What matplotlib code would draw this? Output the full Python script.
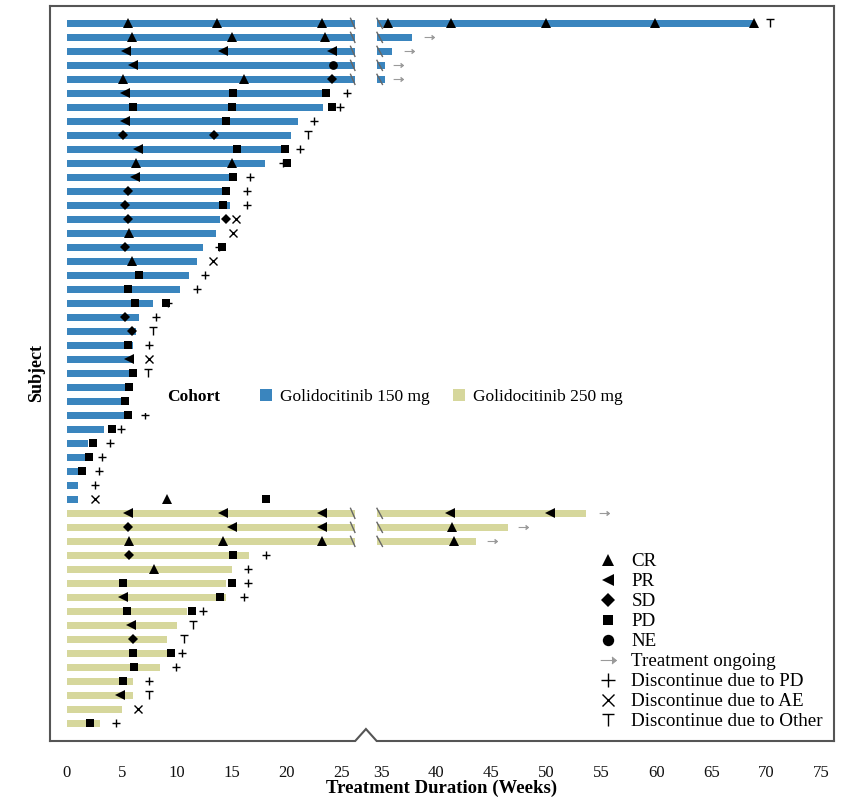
import numpy as np
import matplotlib
matplotlib.use('Agg')
import matplotlib.pyplot as plt
from matplotlib.path import Path
from matplotlib.patches import Patch, Rectangle
from matplotlib.lines import Line2D
from matplotlib.transforms import blended_transform_factory

plt.rcParams['font.family'] = ['Liberation Serif', 'DejaVu Serif']

# ---------------- data ----------------
cohort_labels = ['Golidocitinib 150 mg', 'Golidocitinib 250 mg']
cohort_colors = ['#3a85be', '#d6d79c']

# cohort index for each subject (top to bottom)
subject_cohort = [0] * 35 + [1] * 16

# treatment duration (weeks) for each subject
duration = [68.9, 37.8, 36.0, 35.3, 35.3, 23.3, 23.3, 21.0, 20.4, 20.1,
            18.0, 15.5, 14.8, 14.8, 13.9, 13.6, 12.4, 11.8, 11.1, 10.3,
            7.8, 6.6, 6.3, 6.0, 6.0, 6.0, 6.0, 5.7, 5.6, 3.4,
            1.9, 1.7, 1.0, 1.0, 1.0,
            53.6, 46.5, 43.6, 16.6, 15.0, 14.5, 14.5, 10.9, 10.0, 9.1,
            9.1, 8.5, 6.0, 6.0, 5.0, 3.0]

# end-of-treatment event per subject: week and reason
end_week = [70.3, 39.3, 37.5, 36.5, 36.5, 25.5, 24.8, 22.5, 21.9, 21.2,
            19.7, 16.7, 16.4, 16.4, 15.4, 15.1, 13.8, 13.3, 12.6, 11.8,
            9.2, 8.1, 7.8, 7.5, 7.5, 7.4, 7.5, 7.2, 7.1, 4.9,
            3.9, 3.2, 2.9, 2.6, 2.6,
            55.2, 47.9, 45.1, 18.1, 16.5, 16.5, 16.1, 12.4, 11.5, 10.7,
            10.5, 9.9, 7.5, 7.5, 6.5, 4.5]
end_reason = ['Other', 'Ongoing', 'Ongoing', 'Ongoing', 'Ongoing', 'PD', 'PD', 'PD', 'Other', 'PD',
              'PD', 'PD', 'PD', 'PD', 'AE', 'AE', 'PD', 'AE', 'PD', 'PD',
              'PD', 'PD', 'Other', 'PD', 'AE', 'Other', 'PD', 'PD', 'PD', 'PD',
              'PD', 'PD', 'PD', 'PD', 'AE',
              'Ongoing', 'Ongoing', 'Ongoing', 'PD', 'PD', 'PD', 'PD', 'PD', 'Other', 'Other',
              'PD', 'PD', 'PD', 'Other', 'AE', 'PD']

# response assessments: (subject number, week, response)
assessments = [
    (1, 5.6, 'CR'), (1, 13.7, 'CR'), (1, 23.2, 'CR'), (1, 35.6, 'CR'), (1, 41.3, 'CR'),
    (1, 50.0, 'CR'), (1, 59.9, 'CR'), (1, 68.9, 'CR'),
    (2, 5.9, 'CR'), (2, 15.0, 'CR'), (2, 23.5, 'CR'),
    (3, 5.4, 'PR'), (3, 14.2, 'PR'), (3, 24.1, 'PR'),
    (4, 6.0, 'PR'), (4, 24.2, 'NE'),
    (5, 5.1, 'CR'), (5, 16.1, 'CR'), (5, 24.1, 'SD'),
    (6, 5.3, 'PR'), (6, 15.1, 'PD'), (6, 23.6, 'PD'),
    (7, 6.0, 'PD'), (7, 15.0, 'PD'), (7, 24.1, 'PD'),
    (8, 5.3, 'PR'), (8, 14.5, 'PD'),
    (9, 5.1, 'SD'), (9, 13.4, 'SD'),
    (10, 6.5, 'PR'), (10, 15.5, 'PD'), (10, 19.8, 'PD'),
    (11, 6.3, 'CR'), (11, 15.0, 'CR'), (11, 20.0, 'PD'),
    (12, 6.2, 'PR'), (12, 15.1, 'PD'),
    (13, 5.6, 'SD'), (13, 14.5, 'PD'),
    (14, 5.3, 'SD'), (14, 14.2, 'PD'),
    (15, 5.6, 'SD'), (15, 14.5, 'SD'),
    (16, 5.7, 'CR'),
    (17, 5.3, 'SD'), (17, 14.1, 'PD'),
    (18, 5.9, 'CR'),
    (19, 6.6, 'PD'),
    (20, 5.6, 'PD'),
    (21, 6.2, 'PD'), (21, 9.0, 'PD'),
    (22, 5.3, 'SD'),
    (23, 5.9, 'SD'),
    (24, 5.6, 'PD'),
    (25, 5.7, 'PR'),
    (26, 6.0, 'PD'),
    (27, 5.7, 'PD'),
    (28, 5.3, 'PD'),
    (29, 5.6, 'PD'),
    (30, 4.1, 'PD'),
    (31, 2.4, 'PD'),
    (32, 2.0, 'PD'),
    (33, 1.4, 'PD'),
    (35, 9.1, 'CR'), (35, 18.1, 'PD'),
    (36, 5.6, 'PR'), (36, 14.2, 'PR'), (36, 23.2, 'PR'), (36, 41.2, 'PR'), (36, 50.3, 'PR'),
    (37, 5.6, 'SD'), (37, 15.0, 'PR'), (37, 23.2, 'PR'), (37, 41.4, 'CR'),
    (38, 5.7, 'CR'), (38, 14.2, 'CR'), (38, 23.2, 'CR'), (38, 41.6, 'CR'),
    (39, 5.7, 'SD'), (39, 15.1, 'PD'),
    (40, 7.9, 'CR'),
    (41, 5.1, 'PD'), (41, 15.0, 'PD'),
    (42, 5.1, 'PR'), (42, 13.9, 'PD'),
    (43, 5.5, 'PD'), (43, 11.4, 'PD'),
    (44, 5.8, 'PR'),
    (45, 6.0, 'SD'),
    (46, 6.0, 'PD'), (46, 9.5, 'PD'),
    (47, 6.1, 'PD'),
    (48, 5.1, 'PD'),
    (49, 4.8, 'PR'),
    (51, 2.1, 'PD'),
]

response_codes = ['CR', 'PR', 'SD', 'PD', 'NE']
end_codes = ['Ongoing', 'PD', 'AE', 'Other']
end_labels = ['Treatment ongoing', 'Discontinue due to PD',
              'Discontinue due to AE', 'Discontinue due to Other']

xtick_values = [0, 5, 10, 15, 20, 25, 35, 40, 45, 50, 55, 60, 65, 70, 75]

# axis break (weeks)
BREAK_LO, BREAK_HI, BREAK_GAP = 26.2, 34.6, 2.0
SHIFT = BREAK_HI - (BREAK_LO + BREAK_GAP)


def fwd(x):
    x = np.asarray(x, dtype=float)
    return np.where(x <= BREAK_LO, x,
                    np.where(x >= BREAK_HI, x - SHIFT,
                             BREAK_LO + (x - BREAK_LO) * BREAK_GAP / (BREAK_HI - BREAK_LO)))


def inv(y):
    y = np.asarray(y, dtype=float)
    return np.where(y <= BREAK_LO, y,
                    np.where(y >= BREAK_LO + BREAK_GAP, y + SHIFT,
                             BREAK_LO + (y - BREAK_LO) * (BREAK_HI - BREAK_LO) / BREAK_GAP))


# ---------------- markers ----------------
T_PATH = Path([(-1, 1), (1, 1), (0, 1), (0, -1)],
              [Path.MOVETO, Path.LINETO, Path.MOVETO, Path.LINETO])
ARROW_PATH = Path([(-1, 0), (1, 0), (0.45, 0.45), (1, 0), (0.45, -0.45)],
                  [Path.MOVETO, Path.LINETO, Path.MOVETO, Path.LINETO, Path.LINETO])

resp_marker = {'CR': '^', 'PR': '<', 'SD': 'D', 'PD': 's', 'NE': 'o'}
resp_size = {'CR': 6.8, 'PR': 6.8, 'SD': 5.2, 'PD': 6.0, 'NE': 6.3}
end_marker = {'Ongoing': ARROW_PATH, 'PD': '+', 'AE': 'x', 'Other': T_PATH}
end_size = {'Ongoing': 7.0, 'PD': 6.0, 'AE': 5.8, 'Other': 5.8}
end_color = {'Ongoing': '#9a9a9a', 'PD': 'black', 'AE': 'black', 'Other': 'black'}
end_mew = {'Ongoing': 0.8, 'PD': 1.0, 'AE': 1.0, 'Other': 1.0}

# ---------------- figure ----------------
fig = plt.figure(figsize=(8.44, 7.99), dpi=100)
ax = fig.add_axes([50 / 844, 1 - 741 / 799, 784 / 844, 735 / 799])
ax.set_xscale('function', functions=(fwd, inv))

n = len(duration)
bar_h = 0.48

for i in range(n):
    col = cohort_colors[subject_cohort[i]]
    d = duration[i]
    if d > BREAK_HI:
        ax.barh(i, BREAK_LO, left=0, height=bar_h, color=col, zorder=2, linewidth=0)
        ax.barh(i, d - BREAK_HI, left=BREAK_HI, height=bar_h, color=col, zorder=2, linewidth=0)
        ax.plot([BREAK_LO - 0.4, BREAK_LO], [i - 0.36, i + 0.36], color='#666666', lw=1.0, zorder=3)
        ax.plot([BREAK_HI, BREAK_HI + 0.5], [i - 0.36, i + 0.36], color='#666666', lw=1.0, zorder=3)
    else:
        ax.barh(i, d, left=0, height=bar_h, color=col, zorder=2, linewidth=0)

# end events
for code in end_codes:
    xs = [end_week[i] for i in range(n) if end_reason[i] == code]
    ys = [i for i in range(n) if end_reason[i] == code]
    ax.plot(xs, ys, linestyle='none', marker=end_marker[code], markersize=end_size[code],
            color=end_color[code], markeredgewidth=end_mew[code], zorder=3)

# response assessments
for code in response_codes:
    xs = [w for s, w, c in assessments if c == code]
    ys = [s - 1 for s, w, c in assessments if c == code]
    ax.plot(xs, ys, linestyle='none', marker=resp_marker[code], markersize=resp_size[code],
            color='black', markeredgewidth=0, zorder=4)

ax.set_xlim(-1.52, 76.15)
ax.set_ylim(51.26, -1.24)

ax.set_xticks(xtick_values)
ax.set_xticklabels([str(v) for v in xtick_values])
ax.xaxis.set_minor_locator(matplotlib.ticker.NullLocator())
ax.tick_params(axis='x', length=0, pad=17, labelsize=12, labelcolor='#111111')
ax.set_yticks([])

for side in ['top', 'left', 'right']:
    ax.spines[side].set_color('#555555')
    ax.spines[side].set_linewidth(1.5)
ax.spines['bottom'].set_visible(False)
trans = blended_transform_factory(ax.transData, ax.transAxes)
ax.plot([-1.52, 26.3, 30.4, 34.5, 76.15], [0, 0, 0.0163, 0, 0], color='#555555',
        lw=1.5, transform=trans, clip_on=False, zorder=10, solid_joinstyle='miter')

ax.set_xlabel('Treatment Duration (Weeks)', fontsize=13.5, fontweight='bold', labelpad=-1)
ax.set_ylabel('Subject', fontsize=13, fontweight='bold', labelpad=3.5)

# cohort legend (with white background)
ax.add_patch(Rectangle(((142 - 50) / 784, 1 - (413 - 6) / 735), (640 - 142) / 784, 31 / 735,
                       transform=ax.transAxes, facecolor='white', edgecolor='none', zorder=5))
ax.text((167 - 50) / 784, 1 - (397 - 6) / 735, 'Cohort', transform=ax.transAxes,
        fontsize=12.5, fontweight='bold', va='center', ha='left', zorder=6)
coh_handles = [Patch(facecolor=c, edgecolor='none') for c in cohort_colors]
leg1 = ax.legend(coh_handles, cohort_labels, loc='center left',
                 bbox_to_anchor=((244 - 50) / 784, 1 - (397 - 6) / 735),
                 ncol=2, frameon=False, fontsize=12.5, handlelength=0.69, handleheight=0.69,
                 handletextpad=0.46, columnspacing=1.38, borderpad=0.4)
leg1.set_zorder(6)
ax.add_artist(leg1)

# marker legend
mk_handles = []
mk_labels = []
for code in response_codes:
    mk_handles.append(Line2D([], [], linestyle='none', marker=resp_marker[code],
                             markersize=resp_size[code] * 1.3, color='black', markeredgewidth=0))
    mk_labels.append(code)
for code, lab in zip(end_codes, end_labels):
    mk_handles.append(Line2D([], [], linestyle='none', marker=end_marker[code],
                             markersize=end_size[code] * 1.6, color=end_color[code],
                             markeredgewidth=end_mew[code]))
    mk_labels.append(lab)
leg2 = ax.legend(mk_handles, mk_labels, loc='upper left',
                 bbox_to_anchor=((581 - 50) / 784, 1 - (536 - 6) / 735),
                 frameon=False, fontsize=13.7, handlelength=1.0, handletextpad=0.75,
                 labelspacing=0.14, borderpad=0.4)
leg2.set_zorder(6)

fig.savefig('out.png', dpi=100, facecolor='white')
